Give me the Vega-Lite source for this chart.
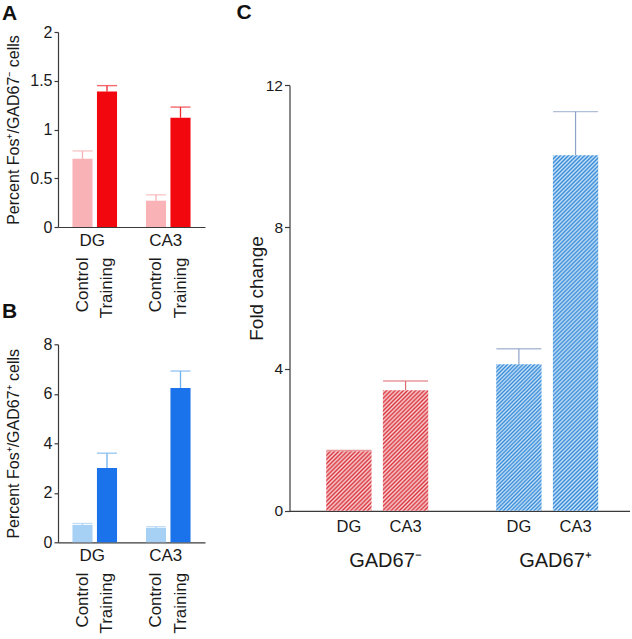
{
 "$schema": "https://vega.github.io/schema/vega-lite/v6.json",
 "padding": {"left": 2, "top": 2, "right": 0, "bottom": 0},
 "datasets": {
  "a": [
   {"bar": "DG Control", "region": "DG", "condition": "Control", "value": 0.7, "err": 0.78},
   {"bar": "DG Training", "region": "DG", "condition": "Training", "value": 1.39, "err": 1.45},
   {"bar": "CA3 Control", "region": "CA3", "condition": "Control", "value": 0.27, "err": 0.33},
   {"bar": "CA3 Training", "region": "CA3", "condition": "Training", "value": 1.12, "err": 1.23}
  ],
  "b": [
   {"bar": "DG Control", "region": "DG", "condition": "Control", "value": 0.7, "err": 0.76},
   {"bar": "DG Training", "region": "DG", "condition": "Training", "value": 3.0, "err": 3.6},
   {"bar": "CA3 Control", "region": "CA3", "condition": "Control", "value": 0.58, "err": 0.63},
   {"bar": "CA3 Training", "region": "CA3", "condition": "Training", "value": 6.23, "err": 6.92}
  ],
  "c": [
   {"bar": "neg DG", "group": "GAD67⁻", "region": "DG", "value": 1.68, "err": 1.7},
   {"bar": "neg CA3", "group": "GAD67⁻", "region": "CA3", "value": 3.4, "err": 3.66},
   {"bar": "pos DG", "group": "GAD67⁺", "region": "DG", "value": 4.13, "err": 4.57},
   {"bar": "pos CA3", "group": "GAD67⁺", "region": "CA3", "value": 10.03, "err": 11.26}
  ]
 },
 "hconcat": [
  {
   "vconcat": [
    {
     "width": 147, "height": 195,
     "title": {"text": "A", "anchor": "start", "frame": "group", "dx": -56, "offset": -0.7},
     "data": {"name": "a"},
     "encoding": {"y": {"field": "value", "type": "quantitative", "scale": {"domain": [0, 2], "nice": false},
       "axis": {"values": [0, 0.5, 1, 1.5, 2], "format": "~g", "title": "Percent Fos⁺/GAD67⁻ cells", "titleFontSize": 16, "labelFontSize": 16, "tickSize": 4, "labelPadding": 2, "titleX": -45, "titleBaseline": "middle"}}},
     "layer": [
      {
       "encoding": {"x": {"field": "bar", "type": "nominal", "scale": {"domain": ["DG Control", "DG Training", "gap", "CA3 Control", "CA3 Training"], "paddingInner": 0.18, "paddingOuter": 0.59},
         "axis": {"title": null, "labelAngle": -90, "labelPadding": 30, "ticks": false, "labelFontSize": 17, "labelExpr": "indexof(datum.label, ' ') > 0 ? split(datum.label, ' ')[1] : ''"}}},
       "layer": [
        {"mark": {"type": "bar"}, "encoding": {"fill": {"field": "condition", "type": "nominal", "scale": {"domain": ["Control", "Training"], "range": ["#f9b3b6", "#f2070f"]}, "legend": null}}},
        {"mark": {"type": "rule", "strokeWidth": 1.3}, "encoding": {"y2": {"field": "err"}, "color": {"field": "condition", "type": "nominal", "scale": {"domain": ["Control", "Training"], "range": ["#f7b0b4", "#ee2a30"]}, "legend": null}}},
        {"mark": {"type": "tick", "size": 20, "thickness": 1.4}, "encoding": {"y": {"field": "err", "type": "quantitative"}, "color": {"field": "condition", "type": "nominal", "legend": null}}}
       ]
      },
      {"mark": {"type": "bar", "opacity": 0}, "encoding": {"x": {"field": "region", "type": "nominal", "scale": {"domain": ["DG", "CA3"], "paddingInner": 0, "paddingOuter": 0},
        "axis": {"orient": "bottom", "title": null, "labelAngle": 0, "labelPadding": 5, "labelOffset": -2.5, "ticks": false, "domain": false, "labelFontSize": 17}}}}
     ],
     "resolve": {"scale": {"x": "independent"}, "axis": {"x": "independent"}}
    },
    {
     "width": 147, "height": 198,
     "title": {"text": "B", "anchor": "start", "frame": "group", "dx": -56, "offset": 14},
     "data": {"name": "b"},
     "encoding": {"y": {"field": "value", "type": "quantitative", "scale": {"domain": [0, 8], "nice": false},
       "axis": {"values": [0, 2, 4, 6, 8], "format": "~g", "title": "Percent Fos⁺/GAD67⁺ cells", "titleFontSize": 16, "labelFontSize": 16, "tickSize": 4, "labelPadding": 2, "titleX": -45, "titleBaseline": "middle"}}},
     "layer": [
      {
       "encoding": {"x": {"field": "bar", "type": "nominal", "scale": {"domain": ["DG Control", "DG Training", "gap", "CA3 Control", "CA3 Training"], "paddingInner": 0.18, "paddingOuter": 0.59},
         "axis": {"title": null, "labelAngle": -90, "labelPadding": 30, "ticks": false, "labelFontSize": 17, "labelExpr": "indexof(datum.label, ' ') > 0 ? split(datum.label, ' ')[1] : ''"}}},
       "layer": [
        {"mark": {"type": "bar"}, "encoding": {"fill": {"field": "condition", "type": "nominal", "scale": {"domain": ["Control", "Training"], "range": ["#a6d1f5", "#1a73eb"]}, "legend": null}}},
        {"mark": {"type": "rule", "strokeWidth": 1.3}, "encoding": {"y2": {"field": "err"}, "color": {"field": "condition", "type": "nominal", "scale": {"domain": ["Control", "Training"], "range": ["#a8d0f3", "#6fb0ee"]}, "legend": null}}},
        {"mark": {"type": "tick", "size": 20, "thickness": 1.4}, "encoding": {"y": {"field": "err", "type": "quantitative"}, "color": {"field": "condition", "type": "nominal", "legend": null}}}
       ]
      },
      {"mark": {"type": "bar", "opacity": 0}, "encoding": {"x": {"field": "region", "type": "nominal", "scale": {"domain": ["DG", "CA3"], "paddingInner": 0, "paddingOuter": 0},
        "axis": {"orient": "bottom", "title": null, "labelAngle": 0, "labelPadding": 5, "labelOffset": -2.5, "ticks": false, "domain": false, "labelFontSize": 17}}}}
     ],
     "resolve": {"scale": {"x": "independent"}, "axis": {"x": "independent"}}
    }
   ],
   "bounds": "flush",
   "spacing": 117.3,
   "resolve": {"scale": {"fill": "independent", "color": "independent"}}
  },
  {
   "width": 340, "height": 478.8,
   "title": {"text": "C", "anchor": "start", "frame": "group", "dx": -53, "offset": -14.6},
   "data": {"name": "c"},
   "encoding": {"y": {"field": "value", "type": "quantitative", "scale": {"domain": [0, 12], "range": [478.8, 53.3], "nice": false},
     "axis": {"values": [0, 4, 8, 12], "title": "Fold change", "titleFontSize": 19, "labelFontSize": 15.5, "tickSize": 5, "labelPadding": 2, "titleX": -33.5, "titleY": 256, "titleBaseline": "middle"}}},
   "layer": [
    {
     "encoding": {"x": {"field": "bar", "type": "nominal", "scale": {"domain": ["neg DG", "neg CA3", "gap", "pos DG", "pos CA3"], "paddingInner": 0.2, "paddingOuter": 0.6, "align": 0.54},
       "axis": {"title": null, "labelAngle": 0, "labelPadding": 8, "ticks": false, "labelFontSize": 16.5, "labelExpr": "indexof(datum.label, ' ') > 0 ? split(datum.label, ' ')[1] : ''"}}},
     "layer": [
      {"transform": [{"filter": "datum.bar === 'neg DG'"}], "mark": {"type": "bar", "fill": {"gradient": "linear", "x1": 0, "y1": 0, "x2": 0.8483, "y2": 1.1153, "stops": [
{"offset":0,"color":"#d8353d"},{"offset":0.02,"color":"#f9d3d6"},{"offset":0.04,"color":"#d8353d"},{"offset":0.06,"color":"#f9d3d6"},{"offset":0.08,"color":"#d8353d"},{"offset":0.1,"color":"#f9d3d6"},{"offset":0.12,"color":"#d8353d"},{"offset":0.14,"color":"#f9d3d6"},{"offset":0.16,"color":"#d8353d"},{"offset":0.18,"color":"#f9d3d6"},{"offset":0.2,"color":"#d8353d"},{"offset":0.22,"color":"#f9d3d6"},{"offset":0.24,"color":"#d8353d"},{"offset":0.26,"color":"#f9d3d6"},{"offset":0.28,"color":"#d8353d"},{"offset":0.3,"color":"#f9d3d6"},{"offset":0.32,"color":"#d8353d"},{"offset":0.34,"color":"#f9d3d6"},{"offset":0.36,"color":"#d8353d"},{"offset":0.38,"color":"#f9d3d6"},{"offset":0.4,"color":"#d8353d"},{"offset":0.42,"color":"#f9d3d6"},{"offset":0.44,"color":"#d8353d"},{"offset":0.46,"color":"#f9d3d6"},{"offset":0.48,"color":"#d8353d"},{"offset":0.5,"color":"#f9d3d6"},{"offset":0.52,"color":"#d8353d"},{"offset":0.54,"color":"#f9d3d6"},{"offset":0.56,"color":"#d8353d"},{"offset":0.58,"color":"#f9d3d6"},{"offset":0.6,"color":"#d8353d"},{"offset":0.62,"color":"#f9d3d6"},{"offset":0.64,"color":"#d8353d"},{"offset":0.66,"color":"#f9d3d6"},{"offset":0.68,"color":"#d8353d"},{"offset":0.7,"color":"#f9d3d6"},{"offset":0.72,"color":"#d8353d"},{"offset":0.74,"color":"#f9d3d6"},{"offset":0.76,"color":"#d8353d"},{"offset":0.78,"color":"#f9d3d6"},{"offset":0.8,"color":"#d8353d"},{"offset":0.82,"color":"#f9d3d6"},{"offset":0.84,"color":"#d8353d"},{"offset":0.86,"color":"#f9d3d6"},{"offset":0.88,"color":"#d8353d"},{"offset":0.9,"color":"#f9d3d6"},{"offset":0.92,"color":"#d8353d"},{"offset":0.94,"color":"#f9d3d6"},{"offset":0.96,"color":"#d8353d"},{"offset":0.98,"color":"#f9d3d6"},{"offset":1,"color":"#d8353d"}]}}},
      {"transform": [{"filter": "datum.bar === 'neg CA3'"}], "mark": {"type": "bar", "fill": {"gradient": "linear", "x1": 0, "y1": 0, "x2": 0.4531, "y2": 1.2056, "stops": [
{"offset":0,"color":"#d8353d"},{"offset":0.0125,"color":"#f9d3d6"},{"offset":0.025,"color":"#d8353d"},{"offset":0.0375,"color":"#f9d3d6"},{"offset":0.05,"color":"#d8353d"},{"offset":0.0625,"color":"#f9d3d6"},{"offset":0.075,"color":"#d8353d"},{"offset":0.0875,"color":"#f9d3d6"},{"offset":0.1,"color":"#d8353d"},{"offset":0.1125,"color":"#f9d3d6"},{"offset":0.125,"color":"#d8353d"},{"offset":0.1375,"color":"#f9d3d6"},{"offset":0.15,"color":"#d8353d"},{"offset":0.1625,"color":"#f9d3d6"},{"offset":0.175,"color":"#d8353d"},{"offset":0.1875,"color":"#f9d3d6"},{"offset":0.2,"color":"#d8353d"},{"offset":0.2125,"color":"#f9d3d6"},{"offset":0.225,"color":"#d8353d"},{"offset":0.2375,"color":"#f9d3d6"},{"offset":0.25,"color":"#d8353d"},{"offset":0.2625,"color":"#f9d3d6"},{"offset":0.275,"color":"#d8353d"},{"offset":0.2875,"color":"#f9d3d6"},{"offset":0.3,"color":"#d8353d"},{"offset":0.3125,"color":"#f9d3d6"},{"offset":0.325,"color":"#d8353d"},{"offset":0.3375,"color":"#f9d3d6"},{"offset":0.35,"color":"#d8353d"},{"offset":0.3625,"color":"#f9d3d6"},{"offset":0.375,"color":"#d8353d"},{"offset":0.3875,"color":"#f9d3d6"},{"offset":0.4,"color":"#d8353d"},{"offset":0.4125,"color":"#f9d3d6"},{"offset":0.425,"color":"#d8353d"},{"offset":0.4375,"color":"#f9d3d6"},{"offset":0.45,"color":"#d8353d"},{"offset":0.4625,"color":"#f9d3d6"},{"offset":0.475,"color":"#d8353d"},{"offset":0.4875,"color":"#f9d3d6"},{"offset":0.5,"color":"#d8353d"},{"offset":0.5125,"color":"#f9d3d6"},{"offset":0.525,"color":"#d8353d"},{"offset":0.5375,"color":"#f9d3d6"},{"offset":0.55,"color":"#d8353d"},{"offset":0.5625,"color":"#f9d3d6"},{"offset":0.575,"color":"#d8353d"},{"offset":0.5875,"color":"#f9d3d6"},{"offset":0.6,"color":"#d8353d"},{"offset":0.6125,"color":"#f9d3d6"},{"offset":0.625,"color":"#d8353d"},{"offset":0.6375,"color":"#f9d3d6"},{"offset":0.65,"color":"#d8353d"},{"offset":0.6625,"color":"#f9d3d6"},{"offset":0.675,"color":"#d8353d"},{"offset":0.6875,"color":"#f9d3d6"},{"offset":0.7,"color":"#d8353d"},{"offset":0.7125,"color":"#f9d3d6"},{"offset":0.725,"color":"#d8353d"},{"offset":0.7375,"color":"#f9d3d6"},{"offset":0.75,"color":"#d8353d"},{"offset":0.7625,"color":"#f9d3d6"},{"offset":0.775,"color":"#d8353d"},{"offset":0.7875,"color":"#f9d3d6"},{"offset":0.8,"color":"#d8353d"},{"offset":0.8125,"color":"#f9d3d6"},{"offset":0.825,"color":"#d8353d"},{"offset":0.8375,"color":"#f9d3d6"},{"offset":0.85,"color":"#d8353d"},{"offset":0.8625,"color":"#f9d3d6"},{"offset":0.875,"color":"#d8353d"},{"offset":0.8875,"color":"#f9d3d6"},{"offset":0.9,"color":"#d8353d"},{"offset":0.9125,"color":"#f9d3d6"},{"offset":0.925,"color":"#d8353d"},{"offset":0.9375,"color":"#f9d3d6"},{"offset":0.95,"color":"#d8353d"},{"offset":0.9625,"color":"#f9d3d6"},{"offset":0.975,"color":"#d8353d"},{"offset":0.9875,"color":"#f9d3d6"},{"offset":1,"color":"#d8353d"}]}}},
      {"transform": [{"filter": "datum.bar === 'pos DG'"}], "mark": {"type": "bar", "fill": {"gradient": "linear", "x1": 0, "y1": 0, "x2": 0.37, "y2": 1.195, "stops": [
{"offset":0,"color":"#3588d6"},{"offset":0.01,"color":"#c9e4f8"},{"offset":0.02,"color":"#3588d6"},{"offset":0.03,"color":"#c9e4f8"},{"offset":0.04,"color":"#3588d6"},{"offset":0.05,"color":"#c9e4f8"},{"offset":0.06,"color":"#3588d6"},{"offset":0.07,"color":"#c9e4f8"},{"offset":0.08,"color":"#3588d6"},{"offset":0.09,"color":"#c9e4f8"},{"offset":0.1,"color":"#3588d6"},{"offset":0.11,"color":"#c9e4f8"},{"offset":0.12,"color":"#3588d6"},{"offset":0.13,"color":"#c9e4f8"},{"offset":0.14,"color":"#3588d6"},{"offset":0.15,"color":"#c9e4f8"},{"offset":0.16,"color":"#3588d6"},{"offset":0.17,"color":"#c9e4f8"},{"offset":0.18,"color":"#3588d6"},{"offset":0.19,"color":"#c9e4f8"},{"offset":0.2,"color":"#3588d6"},{"offset":0.21,"color":"#c9e4f8"},{"offset":0.22,"color":"#3588d6"},{"offset":0.23,"color":"#c9e4f8"},{"offset":0.24,"color":"#3588d6"},{"offset":0.25,"color":"#c9e4f8"},{"offset":0.26,"color":"#3588d6"},{"offset":0.27,"color":"#c9e4f8"},{"offset":0.28,"color":"#3588d6"},{"offset":0.29,"color":"#c9e4f8"},{"offset":0.3,"color":"#3588d6"},{"offset":0.31,"color":"#c9e4f8"},{"offset":0.32,"color":"#3588d6"},{"offset":0.33,"color":"#c9e4f8"},{"offset":0.34,"color":"#3588d6"},{"offset":0.35,"color":"#c9e4f8"},{"offset":0.36,"color":"#3588d6"},{"offset":0.37,"color":"#c9e4f8"},{"offset":0.38,"color":"#3588d6"},{"offset":0.39,"color":"#c9e4f8"},{"offset":0.4,"color":"#3588d6"},{"offset":0.41,"color":"#c9e4f8"},{"offset":0.42,"color":"#3588d6"},{"offset":0.43,"color":"#c9e4f8"},{"offset":0.44,"color":"#3588d6"},{"offset":0.45,"color":"#c9e4f8"},{"offset":0.46,"color":"#3588d6"},{"offset":0.47,"color":"#c9e4f8"},{"offset":0.48,"color":"#3588d6"},{"offset":0.49,"color":"#c9e4f8"},{"offset":0.5,"color":"#3588d6"},{"offset":0.51,"color":"#c9e4f8"},{"offset":0.52,"color":"#3588d6"},{"offset":0.53,"color":"#c9e4f8"},{"offset":0.54,"color":"#3588d6"},{"offset":0.55,"color":"#c9e4f8"},{"offset":0.56,"color":"#3588d6"},{"offset":0.57,"color":"#c9e4f8"},{"offset":0.58,"color":"#3588d6"},{"offset":0.59,"color":"#c9e4f8"},{"offset":0.6,"color":"#3588d6"},{"offset":0.61,"color":"#c9e4f8"},{"offset":0.62,"color":"#3588d6"},{"offset":0.63,"color":"#c9e4f8"},{"offset":0.64,"color":"#3588d6"},{"offset":0.65,"color":"#c9e4f8"},{"offset":0.66,"color":"#3588d6"},{"offset":0.67,"color":"#c9e4f8"},{"offset":0.68,"color":"#3588d6"},{"offset":0.69,"color":"#c9e4f8"},{"offset":0.7,"color":"#3588d6"},{"offset":0.71,"color":"#c9e4f8"},{"offset":0.72,"color":"#3588d6"},{"offset":0.73,"color":"#c9e4f8"},{"offset":0.74,"color":"#3588d6"},{"offset":0.75,"color":"#c9e4f8"},{"offset":0.76,"color":"#3588d6"},{"offset":0.77,"color":"#c9e4f8"},{"offset":0.78,"color":"#3588d6"},{"offset":0.79,"color":"#c9e4f8"},{"offset":0.8,"color":"#3588d6"},{"offset":0.81,"color":"#c9e4f8"},{"offset":0.82,"color":"#3588d6"},{"offset":0.83,"color":"#c9e4f8"},{"offset":0.84,"color":"#3588d6"},{"offset":0.85,"color":"#c9e4f8"},{"offset":0.86,"color":"#3588d6"},{"offset":0.87,"color":"#c9e4f8"},{"offset":0.88,"color":"#3588d6"},{"offset":0.89,"color":"#c9e4f8"},{"offset":0.9,"color":"#3588d6"},{"offset":0.91,"color":"#c9e4f8"},{"offset":0.92,"color":"#3588d6"},{"offset":0.93,"color":"#c9e4f8"},{"offset":0.94,"color":"#3588d6"},{"offset":0.95,"color":"#c9e4f8"},{"offset":0.96,"color":"#3588d6"},{"offset":0.97,"color":"#c9e4f8"},{"offset":0.98,"color":"#3588d6"},{"offset":0.99,"color":"#c9e4f8"},{"offset":1,"color":"#3588d6"}]}}},
      {"transform": [{"filter": "datum.bar === 'pos CA3'"}], "mark": {"type": "bar", "fill": {"gradient": "linear", "x1": 0, "y1": 0, "x2": 0.1414, "y2": 1.1095, "stops": [
{"offset":0,"color":"#3588d6"},{"offset":0.005,"color":"#c9e4f8"},{"offset":0.01,"color":"#3588d6"},{"offset":0.015,"color":"#c9e4f8"},{"offset":0.02,"color":"#3588d6"},{"offset":0.025,"color":"#c9e4f8"},{"offset":0.03,"color":"#3588d6"},{"offset":0.035,"color":"#c9e4f8"},{"offset":0.04,"color":"#3588d6"},{"offset":0.045,"color":"#c9e4f8"},{"offset":0.05,"color":"#3588d6"},{"offset":0.055,"color":"#c9e4f8"},{"offset":0.06,"color":"#3588d6"},{"offset":0.065,"color":"#c9e4f8"},{"offset":0.07,"color":"#3588d6"},{"offset":0.075,"color":"#c9e4f8"},{"offset":0.08,"color":"#3588d6"},{"offset":0.085,"color":"#c9e4f8"},{"offset":0.09,"color":"#3588d6"},{"offset":0.095,"color":"#c9e4f8"},{"offset":0.1,"color":"#3588d6"},{"offset":0.105,"color":"#c9e4f8"},{"offset":0.11,"color":"#3588d6"},{"offset":0.115,"color":"#c9e4f8"},{"offset":0.12,"color":"#3588d6"},{"offset":0.125,"color":"#c9e4f8"},{"offset":0.13,"color":"#3588d6"},{"offset":0.135,"color":"#c9e4f8"},{"offset":0.14,"color":"#3588d6"},{"offset":0.145,"color":"#c9e4f8"},{"offset":0.15,"color":"#3588d6"},{"offset":0.155,"color":"#c9e4f8"},{"offset":0.16,"color":"#3588d6"},{"offset":0.165,"color":"#c9e4f8"},{"offset":0.17,"color":"#3588d6"},{"offset":0.175,"color":"#c9e4f8"},{"offset":0.18,"color":"#3588d6"},{"offset":0.185,"color":"#c9e4f8"},{"offset":0.19,"color":"#3588d6"},{"offset":0.195,"color":"#c9e4f8"},{"offset":0.2,"color":"#3588d6"},{"offset":0.205,"color":"#c9e4f8"},{"offset":0.21,"color":"#3588d6"},{"offset":0.215,"color":"#c9e4f8"},{"offset":0.22,"color":"#3588d6"},{"offset":0.225,"color":"#c9e4f8"},{"offset":0.23,"color":"#3588d6"},{"offset":0.235,"color":"#c9e4f8"},{"offset":0.24,"color":"#3588d6"},{"offset":0.245,"color":"#c9e4f8"},{"offset":0.25,"color":"#3588d6"},{"offset":0.255,"color":"#c9e4f8"},{"offset":0.26,"color":"#3588d6"},{"offset":0.265,"color":"#c9e4f8"},{"offset":0.27,"color":"#3588d6"},{"offset":0.275,"color":"#c9e4f8"},{"offset":0.28,"color":"#3588d6"},{"offset":0.285,"color":"#c9e4f8"},{"offset":0.29,"color":"#3588d6"},{"offset":0.295,"color":"#c9e4f8"},{"offset":0.3,"color":"#3588d6"},{"offset":0.305,"color":"#c9e4f8"},{"offset":0.31,"color":"#3588d6"},{"offset":0.315,"color":"#c9e4f8"},{"offset":0.32,"color":"#3588d6"},{"offset":0.325,"color":"#c9e4f8"},{"offset":0.33,"color":"#3588d6"},{"offset":0.335,"color":"#c9e4f8"},{"offset":0.34,"color":"#3588d6"},{"offset":0.345,"color":"#c9e4f8"},{"offset":0.35,"color":"#3588d6"},{"offset":0.355,"color":"#c9e4f8"},{"offset":0.36,"color":"#3588d6"},{"offset":0.365,"color":"#c9e4f8"},{"offset":0.37,"color":"#3588d6"},{"offset":0.375,"color":"#c9e4f8"},{"offset":0.38,"color":"#3588d6"},{"offset":0.385,"color":"#c9e4f8"},{"offset":0.39,"color":"#3588d6"},{"offset":0.395,"color":"#c9e4f8"},{"offset":0.4,"color":"#3588d6"},{"offset":0.405,"color":"#c9e4f8"},{"offset":0.41,"color":"#3588d6"},{"offset":0.415,"color":"#c9e4f8"},{"offset":0.42,"color":"#3588d6"},{"offset":0.425,"color":"#c9e4f8"},{"offset":0.43,"color":"#3588d6"},{"offset":0.435,"color":"#c9e4f8"},{"offset":0.44,"color":"#3588d6"},{"offset":0.445,"color":"#c9e4f8"},{"offset":0.45,"color":"#3588d6"},{"offset":0.455,"color":"#c9e4f8"},{"offset":0.46,"color":"#3588d6"},{"offset":0.465,"color":"#c9e4f8"},{"offset":0.47,"color":"#3588d6"},{"offset":0.475,"color":"#c9e4f8"},{"offset":0.48,"color":"#3588d6"},{"offset":0.485,"color":"#c9e4f8"},{"offset":0.49,"color":"#3588d6"},{"offset":0.495,"color":"#c9e4f8"},{"offset":0.5,"color":"#3588d6"},{"offset":0.505,"color":"#c9e4f8"},{"offset":0.51,"color":"#3588d6"},{"offset":0.515,"color":"#c9e4f8"},{"offset":0.52,"color":"#3588d6"},{"offset":0.525,"color":"#c9e4f8"},{"offset":0.53,"color":"#3588d6"},{"offset":0.535,"color":"#c9e4f8"},{"offset":0.54,"color":"#3588d6"},{"offset":0.545,"color":"#c9e4f8"},{"offset":0.55,"color":"#3588d6"},{"offset":0.555,"color":"#c9e4f8"},{"offset":0.56,"color":"#3588d6"},{"offset":0.565,"color":"#c9e4f8"},{"offset":0.57,"color":"#3588d6"},{"offset":0.575,"color":"#c9e4f8"},{"offset":0.58,"color":"#3588d6"},{"offset":0.585,"color":"#c9e4f8"},{"offset":0.59,"color":"#3588d6"},{"offset":0.595,"color":"#c9e4f8"},{"offset":0.6,"color":"#3588d6"},{"offset":0.605,"color":"#c9e4f8"},{"offset":0.61,"color":"#3588d6"},{"offset":0.615,"color":"#c9e4f8"},{"offset":0.62,"color":"#3588d6"},{"offset":0.625,"color":"#c9e4f8"},{"offset":0.63,"color":"#3588d6"},{"offset":0.635,"color":"#c9e4f8"},{"offset":0.64,"color":"#3588d6"},{"offset":0.645,"color":"#c9e4f8"},{"offset":0.65,"color":"#3588d6"},{"offset":0.655,"color":"#c9e4f8"},{"offset":0.66,"color":"#3588d6"},{"offset":0.665,"color":"#c9e4f8"},{"offset":0.67,"color":"#3588d6"},{"offset":0.675,"color":"#c9e4f8"},{"offset":0.68,"color":"#3588d6"},{"offset":0.685,"color":"#c9e4f8"},{"offset":0.69,"color":"#3588d6"},{"offset":0.695,"color":"#c9e4f8"},{"offset":0.7,"color":"#3588d6"},{"offset":0.705,"color":"#c9e4f8"},{"offset":0.71,"color":"#3588d6"},{"offset":0.715,"color":"#c9e4f8"},{"offset":0.72,"color":"#3588d6"},{"offset":0.725,"color":"#c9e4f8"},{"offset":0.73,"color":"#3588d6"},{"offset":0.735,"color":"#c9e4f8"},{"offset":0.74,"color":"#3588d6"},{"offset":0.745,"color":"#c9e4f8"},{"offset":0.75,"color":"#3588d6"},{"offset":0.755,"color":"#c9e4f8"},{"offset":0.76,"color":"#3588d6"},{"offset":0.765,"color":"#c9e4f8"},{"offset":0.77,"color":"#3588d6"},{"offset":0.775,"color":"#c9e4f8"},{"offset":0.78,"color":"#3588d6"},{"offset":0.785,"color":"#c9e4f8"},{"offset":0.79,"color":"#3588d6"},{"offset":0.795,"color":"#c9e4f8"},{"offset":0.8,"color":"#3588d6"},{"offset":0.805,"color":"#c9e4f8"},{"offset":0.81,"color":"#3588d6"},{"offset":0.815,"color":"#c9e4f8"},{"offset":0.82,"color":"#3588d6"},{"offset":0.825,"color":"#c9e4f8"},{"offset":0.83,"color":"#3588d6"},{"offset":0.835,"color":"#c9e4f8"},{"offset":0.84,"color":"#3588d6"},{"offset":0.845,"color":"#c9e4f8"},{"offset":0.85,"color":"#3588d6"},{"offset":0.855,"color":"#c9e4f8"},{"offset":0.86,"color":"#3588d6"},{"offset":0.865,"color":"#c9e4f8"},{"offset":0.87,"color":"#3588d6"},{"offset":0.875,"color":"#c9e4f8"},{"offset":0.88,"color":"#3588d6"},{"offset":0.885,"color":"#c9e4f8"},{"offset":0.89,"color":"#3588d6"},{"offset":0.895,"color":"#c9e4f8"},{"offset":0.9,"color":"#3588d6"},{"offset":0.905,"color":"#c9e4f8"},{"offset":0.91,"color":"#3588d6"},{"offset":0.915,"color":"#c9e4f8"},{"offset":0.92,"color":"#3588d6"},{"offset":0.925,"color":"#c9e4f8"},{"offset":0.93,"color":"#3588d6"},{"offset":0.935,"color":"#c9e4f8"},{"offset":0.94,"color":"#3588d6"},{"offset":0.945,"color":"#c9e4f8"},{"offset":0.95,"color":"#3588d6"},{"offset":0.955,"color":"#c9e4f8"},{"offset":0.96,"color":"#3588d6"},{"offset":0.965,"color":"#c9e4f8"},{"offset":0.97,"color":"#3588d6"},{"offset":0.975,"color":"#c9e4f8"},{"offset":0.98,"color":"#3588d6"},{"offset":0.985,"color":"#c9e4f8"},{"offset":0.99,"color":"#3588d6"},{"offset":0.995,"color":"#c9e4f8"},{"offset":1,"color":"#3588d6"}]}}},
      {"mark": {"type": "rule", "strokeWidth": 1.2}, "encoding": {"y2": {"field": "err"}, "color": {"field": "group", "type": "nominal", "scale": {"domain": ["GAD67⁻", "GAD67⁺"], "range": ["#dc6c72", "#8ea2c8"]}, "legend": null}}},
      {"mark": {"type": "tick", "size": 45, "thickness": 1.3}, "encoding": {"y": {"field": "err", "type": "quantitative"}, "color": {"field": "group", "type": "nominal", "legend": null}}}
     ]
    },
    {"mark": {"type": "bar", "opacity": 0}, "encoding": {"x": {"field": "group", "type": "nominal", "scale": {"domain": ["GAD67⁻", "GAD67⁺"], "paddingInner": 0, "paddingOuter": 0},
      "axis": {"orient": "bottom", "title": null, "labelAngle": 0, "labelPadding": 40, "labelOffset": 11, "ticks": false, "domain": false, "labelFontSize": 20}}}}
   ],
   "resolve": {"scale": {"x": "independent"}, "axis": {"x": "independent"}}
  }
 ],
 "spacing": 31.5,
 "resolve": {"scale": {"fill": "independent", "color": "independent"}},
 "config": {
  "font": "Liberation Sans",
  "view": {"stroke": null},
  "axis": {"grid": false, "domainColor": "#3a3a3a", "tickColor": "#3a3a3a", "labelColor": "#1a1a1a", "titleColor": "#1a1a1a", "titleFontWeight": "normal", "domainWidth": 1.2, "tickWidth": 1.2},
  "title": {"fontSize": 21, "fontWeight": "bold", "color": "#111111", "anchor": "start"}
 }
}
